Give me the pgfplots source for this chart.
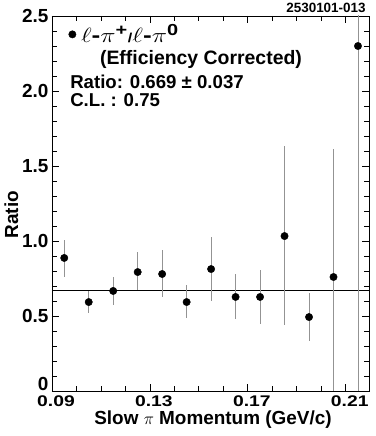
\documentclass[border=0pt]{standalone}
\usepackage{pgfplots}
\pgfplotsset{compat=1.18}
\usepackage{fontspec}
\setmainfont{Liberation Sans}
\newcommand{\xt}[1]{\scalebox{1.25}[1]{#1}}
\begin{document}
\begin{tikzpicture}
\begin{axis}[
  scale only axis,
  width=317bp, height=375bp,
  xmin=0.09, xmax=0.2195,
  ymin=0, ymax=2.5,
  clip mode=individual,
  axis line style={line width=0.9bp},
  every tick/.style={black, line width=0.8bp},
  major tick length=7bp, minor tick length=5bp,
  xtick={0.09,0.13,0.17,0.21},
  xticklabels={\xt{0.09},\xt{0.13},\xt{0.17},\xt{0.21}},
  minor x tick num=3,
  ytick={0.5,1.0,1.5,2.0,2.5},
  yticklabels={0.5,1.0,1.5,2.0,2.5},
  minor ytick={0.1,0.2,...,2.45},
  extra y ticks={0},
  extra y tick labels={0},
  extra y tick style={yticklabel style={yshift=7bp}},
  yticklabel style={font=\fontsize{19}{20}\selectfont\bfseries},
  xticklabel style={font=\fontsize{15.5}{16}\selectfont\bfseries, xshift=4bp, yshift=-1bp},
  label style={font=\fontsize{19}{20}\selectfont\bfseries},
  xlabel={Slow \(\pi\) Momentum (GeV/c)},
  ylabel={Ratio},
  xlabel style={yshift=3bp, xshift=2.5bp},
  ylabel style={at={(ticklabel cs:0.47)}, yshift=-3bp},
  legend style={at={(rel axis cs:0.052,0.951)}, anchor=west, draw=none, fill=none,
     font=\fontsize{21}{22}\selectfont\bfseries, inner sep=0pt, nodes={inner xsep=5bp}},
  legend image code/.code={\draw[#1] plot coordinates {(0bp,0bp)};},
  legend cell align=left,
]
\addplot[black, line width=0.8bp, forget plot] coordinates {(0.09,0.669) (0.2195,0.669)};
\addplot[only marks, mark=*, mark size=3.7bp, black,
  error bars/.cd, y dir=both, y explicit,
  error bar style={gray!85, line width=0.9bp}, error mark=none]
  table[x=x, y=y, y error plus=ep, y error minus=em] {
x      y      ep     em
0.095  0.887  0.120  0.127
0.105  0.593  0.074  0.073
0.115  0.667  0.093  0.094
0.125  0.793  0.134  0.120
0.135  0.780  0.160  0.153
0.145  0.593  0.114  0.106
0.155  0.813  0.214  0.213
0.165  0.627  0.153  0.147
0.175  0.627  0.180  0.180
0.185  1.033  0.600  0.593
0.195  0.493  0.160  0.160
0.205  0.760  0.853  0.853
0.215  2.300  2.400  2.400
};
\addlegendentry{\scalebox{1.25}[1]{\(\ell\)-\(\pi\)\textsuperscript{\fontsize{16}{16}\selectfont+}{\fontsize{13}{13}\selectfont/}\(\ell\)-\(\pi\)\textsuperscript{\fontsize{16}{16}\selectfont 0}}}
\node[font=\fontsize{19.5}{20}\selectfont\bfseries, anchor=center] at (rel axis cs:0.47,0.885) {(Efficiency Corrected)};
\node[font=\fontsize{18.7}{20}\selectfont\bfseries, anchor=west, inner sep=0pt] at (rel axis cs:0.057,0.825) {Ratio: 0.669 ± 0.037};
\node[font=\fontsize{18.7}{20}\selectfont\bfseries, anchor=west, inner sep=0pt] at (rel axis cs:0.057,0.776) {C.L. : 0.75};
\node[font=\fontsize{13.5}{14}\selectfont\bfseries, anchor=base east, inner sep=0pt] at (rel axis cs:0.99,1.008) {2530101-013};
\end{axis}
\pgfresetboundingbox
\useasboundingbox (-52bp,-45bp) rectangle (324bp,391bp);
\end{tikzpicture}
\end{document}
